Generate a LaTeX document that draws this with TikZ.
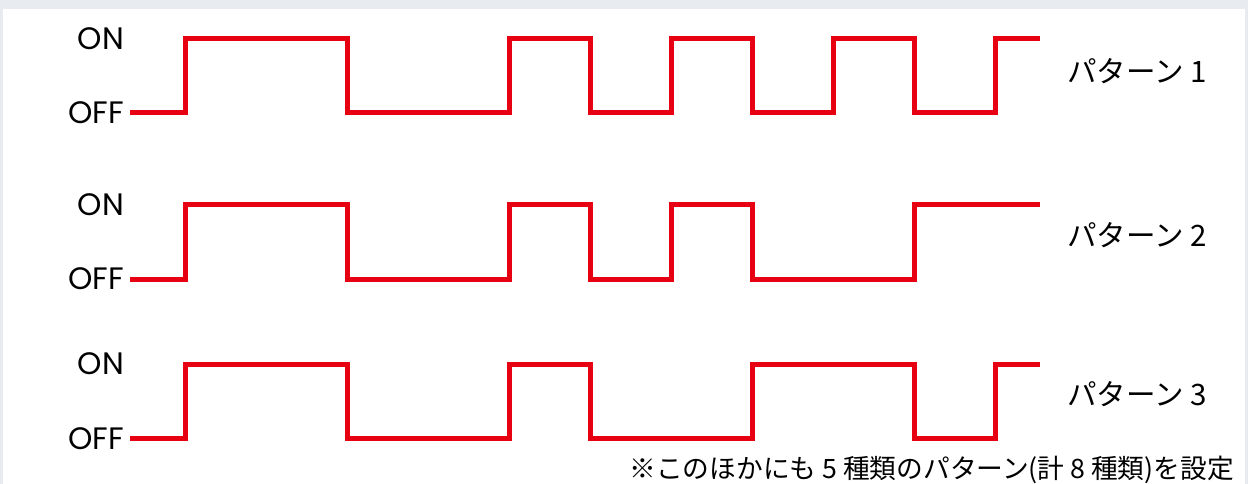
\documentclass[tikz,border=0pt]{standalone}
\usepackage{fontspec}
\setmainfont{Poppins}
\newfontfamily\jpfont{Noto Sans CJK JP}
\usetikzlibrary{positioning}
\definecolor{sigred}{HTML}{E60012}
\definecolor{framegray}{HTML}{E8ECF1}
\tikzset{
  wave/.style={line width=5pt, draw=sigred, line join=miter},
  statelbl/.style={anchor=east, inner sep=0pt, font=\fontsize{31}{31}\selectfont},
  patname/.style={anchor=west, inner sep=0pt, font=\jpfont\fontsize{29.5}{29.5}\selectfont},
  notelbl/.style={anchor=east, inner sep=0pt, font=\jpfont\fontsize{26.7}{26.7}\selectfont}
}

\begin{document}
\begin{tikzpicture}[x=1pt,y=-1pt]
%frame
\fill[framegray] (0,0) rectangle (1248,484);
\fill[white] (3,9) rectangle (1245,484);

%on/off labels
\foreach \n/\on/\off in {1/38.5/113,2/204.5/279,3/364/438.5} {
\node[statelbl] (on\n) at (124,\on) {ON};
\node[statelbl] (off\n) at (124,\off) {OFF};
}

%pattern 1
\draw[wave] ([xshift=6pt]off1.east) -| (185,38.5) -| (347,113) -| (509,38.5) -| (590,113)
  -| (671,38.5) -| (752,113) -| (833,38.5) -| (914,113) -| (995,38.5) -- (1040,38.5);
\node[patname] (pat1) at (1067,71) {パターン 1};

%pattern 2
\draw[wave] ([xshift=6pt]off2.east) -| (185,204.5) -| (347,279) -| (509,204.5) -| (590,279)
  -| (671,204.5) -| (752,279) -| (914,204.5) -- (1040,204.5);
\node[patname] (pat2) at (1067,235) {パターン 2};

%pattern 3
\draw[wave] ([xshift=6pt]off3.east) -| (185,364) -| (347,438.5) -| (509,364) -| (590,438.5)
  -| (752,364) -| (914,438.5) -| (995,364) -- (1040,364);
\node[patname] (pat3) at (1067,394.5) {パターン 3};

%note
\node[notelbl] (note) at (1234,470) {※このほかにも 5 種類のパターン(計 8 種類)を設定};
\end{tikzpicture}
\end{document}
